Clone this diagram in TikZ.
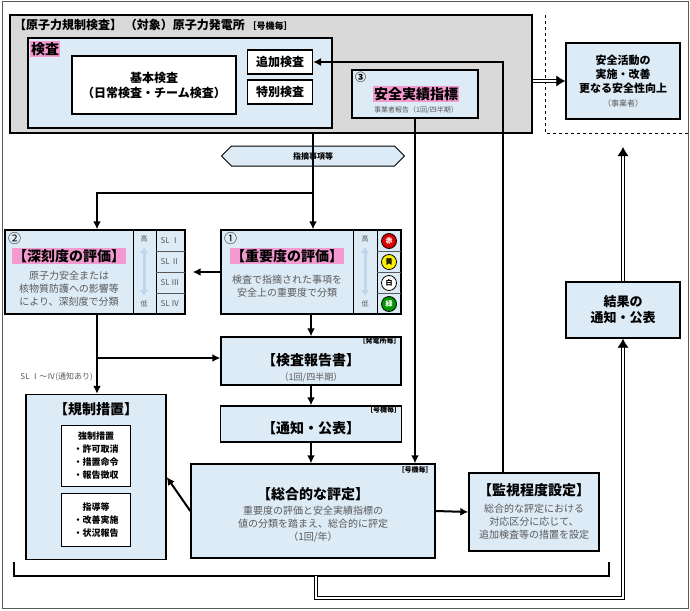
\documentclass[tikz,border=0pt]{standalone}
\usepackage{fontspec}
\setmainfont{Noto Sans CJK JP}
\usetikzlibrary{arrows.meta,positioning,shapes.symbols,calc}
\definecolor{hellblau}{HTML}{DDEBF7}
\definecolor{grau}{HTML}{D9D9D9}
\definecolor{rosa}{HTML}{F49AD0}
\definecolor{textgrau}{HTML}{595959}
\definecolor{pfeilblau}{HTML}{BDD7EE}

\begin{document}
\begin{tikzpicture}[x=1pt,y=-1pt,font=\fontsize{10}{12}\selectfont]
\tikzset{
    % Define standard arrow tip
    >={Latex[length=8pt,width=8pt]},
    % Define style for boxes
    kasten/.style={
           rectangle,
           draw=black, line width=1.4pt,
           fill=hellblau,
           inner sep=0pt,
           align=center},
    weiss/.style={
           kasten,
           fill=white,
           line width=1.2pt},
    titel/.style={
           font=\fontsize{14}{16}\selectfont\bfseries,
           inner sep=1pt},
    rosatitel/.style={
           titel,
           fill=rosa},
    grautext/.style={
           text=textgrau,
           align=center,
           inner sep=0pt,
           font=\fontsize{10}{13}\selectfont},
    % Define arrow style
    pfeil/.style={
           ->,
           line width=2pt},
    doppel/.style={
           double, double distance=2.2pt,
           line width=0.8pt,
           -{Latex[length=9pt,width=11pt]}},
    ampel/.style={
           circle, draw=black, line width=0.8pt,
           minimum size=15pt, inner sep=0pt,
           font=\fontsize{7}{8}\selectfont\bfseries}
}
\useasboundingbox (0,0) rectangle (690,610);
\draw[line width=1pt,draw=textgrau] (2,2) rectangle (688,608);

% top frame
\node[kasten,fill=grau,minimum width=522pt,minimum height=118pt] (pruefung) at (271,74) {};
\node[anchor=west,font=\fontsize{12}{14}\selectfont\bfseries,inner sep=0pt] (ptitel) at (14,25)
   {【原子力規制検査】\ （対象）原子力発電所 {\fontsize{9}{10}\selectfont［号機毎］}};
\node[kasten,minimum width=304pt,minimum height=90pt] (kensa) at (180,83) {};
\node[rosatitel,anchor=north west] (kensatitel) at (30,41) {検査};
\node[weiss,minimum width=164pt,minimum height=58pt,font=\fontsize{12}{15}\selectfont\bfseries] (kihon) at (154,85)
   {基本検査\\（日常検査・チーム検査）};
\node[weiss,minimum width=65pt,minimum height=24pt,font=\fontsize{12}{14}\selectfont\bfseries] (tsuika) at (280,62) {追加検査};
\node[weiss,minimum width=65pt,minimum height=24pt,font=\fontsize{12}{14}\selectfont\bfseries] (tokubetsu) at (280,92) {特別検査};
\node[kasten,minimum width=126pt,minimum height=48pt] (anzen) at (415,94) {};
\node[anchor=north west,inner sep=0pt,font=\fontsize{11}{12}\selectfont\bfseries] (nr3) at (355,72) {③};
\node[rosatitel] (anzentitel) at (416,94) {安全実績指標};
\node[grautext,font=\fontsize{7}{8}\selectfont] (anzentext) at (416,110) {事業者報告（1回/四半期）};

% operator side
\draw[dashed,line width=1pt] (545,15) -- (545,133) -- (688,133);
\node[kasten,minimum width=114pt,minimum height=76pt,font=\fontsize{11}{14}\selectfont\bfseries] (katsudo) at (623,81)
   {安全活動の\\実施・改善\\更なる安全性向上\\{\color{textgrau}\fontsize{8}{10}\selectfont\mdseries（事業者）}};
\node[kasten,minimum width=114pt,minimum height=56pt,font=\fontsize{13}{16}\selectfont\bfseries] (kekka) at (623,310)
   {結果の\\通知・公表};
\coordinate (oben) at (623,147);

% findings
\node[signal,signal to=west and east,draw=black,line width=1pt,fill=hellblau,minimum width=183pt,minimum height=20pt,
      inner sep=0pt,font=\fontsize{8}{9}\selectfont\bfseries] (shiteki) at (313,156) {指摘事項等};

% importance evaluation
\node[kasten,minimum width=180pt,minimum height=84pt] (juyou) at (311,272) {};
\node[anchor=north west,inner sep=0pt,font=\fontsize{13}{14}\selectfont] (nr1) at (224,232) {①};
\node[rosatitel] (juyoutitel) at (287,256) {【重要度の評価】};
\node[grautext] (juyoutext) at (287,286) {検査で指摘された事項を\\安全上の重要度で分類};
\draw[line width=1pt] (353,230) -- (353,314) (377,230) -- (377,314);
\foreach \yy in {251,272,293} \draw[line width=0.6pt,draw=textgrau] (377,\yy) -- (401,\yy);
\node[grautext,font=\fontsize{7}{8}\selectfont] (hoch1) at (365,239) {高};
\node[grautext,font=\fontsize{7}{8}\selectfont] (tief1) at (365,304) {低};
\draw[{Latex[length=6pt,width=9pt]}-{Latex[length=6pt,width=9pt]},line width=3pt,draw=pfeilblau] (365,247) -- (365,296);
\node[ampel,fill=red!85!black,text=white] (rot) at (389,241) {赤};
\node[ampel,fill=yellow] (gelb) at (389,262) {黄};
\node[ampel,fill=white] (weissampel) at (389,283) {白};
\node[ampel,fill=green!60!black,text=white] (gruen) at (389,304) {緑};

% severity evaluation
\node[kasten,minimum width=180pt,minimum height=84pt] (shinkoku) at (95,272) {};
\node[anchor=north west,inner sep=0pt,font=\fontsize{13}{14}\selectfont] (nr2) at (8,232) {②};
\node[rosatitel] (shinkokutitel) at (69,256) {【深刻度の評価】};
\node[grautext] (shinkokutext) at (69,289) {原子力安全または\\核物質防護への影響等\\により、深刻度で分類};
\draw[line width=1pt] (133,230) -- (133,314) (156,230) -- (156,314);
\foreach \yy in {251,272,293} \draw[line width=0.6pt,draw=textgrau] (156,\yy) -- (185,\yy);
\node[grautext,font=\fontsize{7}{8}\selectfont] (hoch2) at (144,239) {高};
\node[grautext,font=\fontsize{7}{8}\selectfont] (tief2) at (144,304) {低};
\draw[{Latex[length=6pt,width=9pt]}-{Latex[length=6pt,width=9pt]},line width=3pt,draw=pfeilblau] (144,247) -- (144,296);
\foreach \nn/\yy in {Ⅰ/241,Ⅱ/262,Ⅲ/283,Ⅳ/304}
   \node[grautext,font=\fontsize{8}{9}\selectfont] at (170,\yy) {SL \nn};

% report and publication
\node[kasten,minimum width=180pt,minimum height=48pt] (bericht) at (311,361) {};
\node[titel] (berichttitel) at (311,360) {【検査報告書】};
\node[grautext,font=\fontsize{9}{10}\selectfont] (berichttext) at (311,377) {（1回/四半期）};
\node[anchor=north east,inner sep=1pt,font=\fontsize{7}{8}\selectfont\bfseries] at (bericht.north east) {［発電所毎］};
\node[kasten,minimum width=181pt,minimum height=36pt] (tsuchi) at (311,424) {};
\node[titel] (tsuchititel) at (311,428) {【通知・公表】};
\node[anchor=north east,inner sep=1pt,font=\fontsize{7}{8}\selectfont\bfseries] at (tsuchi.north east) {［号機毎］};

% overall assessment
\node[kasten,minimum width=244pt,minimum height=94pt] (sougou) at (313,511) {};
\node[titel] (sougoutitel) at (313,494) {【総合的な評定】};
\node[grautext] (sougoutext) at (313,524) {重要度の評価と安全実績指標の\\値の分類を踏まえ、総合的に評定\\（1回/年）};
\node[anchor=north east,inner sep=3pt,font=\fontsize{7}{8}\selectfont\bfseries] at (sougou.north east) {［号機毎］};
\node[kasten,minimum width=130pt,minimum height=78pt] (kanshi) at (534,512) {};
\node[titel] (kanshititel) at (534,490) {【監視程度設定】};
\node[grautext] (kanshitext) at (534,522) {総合的な評定における\\対応区分に応じて、\\追加検査等の措置を設定};

% regulatory measures
\node[kasten,minimum width=140pt,minimum height=165pt] (kisei) at (96,477) {};
\node[titel] (kiseititel) at (96,409) {【規制措置】};
\node[weiss,minimum width=69pt,minimum height=61pt,font=\fontsize{9}{13}\selectfont\bfseries] (kyousei) at (96,456)
   {強制措置\\・許可取消\\・措置命令\\・報告徴収};
\node[weiss,minimum width=69pt,minimum height=53pt,font=\fontsize{9}{13}\selectfont\bfseries] (shidou) at (96,520)
   {指導等\\・改善実施\\・状況報告};

% connectors
\coordinate (teilung) at (313,193);
\coordinate (links) at (97,193);
\coordinate (abzweig) at (97,358);
\coordinate (rueckweg) at (503,62);
\node[anchor=east,grautext,font=\fontsize{8}{9}\selectfont] (sllabel) at (93,377) {SL Ⅰ～Ⅳ(通知あり)};
\draw[line width=2pt] (pruefung.south -| teilung) -- (teilung);
\draw[pfeil] (teilung) -- (teilung |- juyou.north);
\draw[pfeil] (teilung) -- (links) -- (links |- shinkoku.north);
\draw[pfeil] (juyou.west) -- ($(shinkoku.east)+(7,0)$);
\draw[pfeil] (juyou.south) -- (bericht.north);
\draw[pfeil] (shinkoku.south -| abzweig) -- (abzweig |- kisei.north);
\draw[pfeil] (abzweig) -- (abzweig -| bericht.west);
\draw[pfeil] (bericht.south) -- (tsuchi.north);
\draw[pfeil] (tsuchi.south) -- (tsuchi.south |- sougou.north);
\draw[pfeil] (anzen.south) -- (anzen.south |- sougou.north);
\draw[pfeil] (sougou.west) -- (kisei.east);
\draw[pfeil] (sougou.east) -- (kanshi.west);
\draw[pfeil] (kanshi.north -| rueckweg) -- (rueckweg) -- (tsuika.east);
\draw[doppel] (pruefung.east |- katsudo) -- (katsudo.west);

% feedback bracket
\coordinate (klammerL) at (14,562);
\coordinate (klammerR) at (609,562);
\draw[line width=2pt] (klammerL) -- (14,576) -- (609,576) -- (klammerR);
\coordinate (rueck) at (316,576);
\draw[doppel] (rueck) -- (316,598) -- (623,598) -- (kekka.south);
\draw[doppel] (kekka.north) -- (oben);
\end{tikzpicture}
\end{document}
